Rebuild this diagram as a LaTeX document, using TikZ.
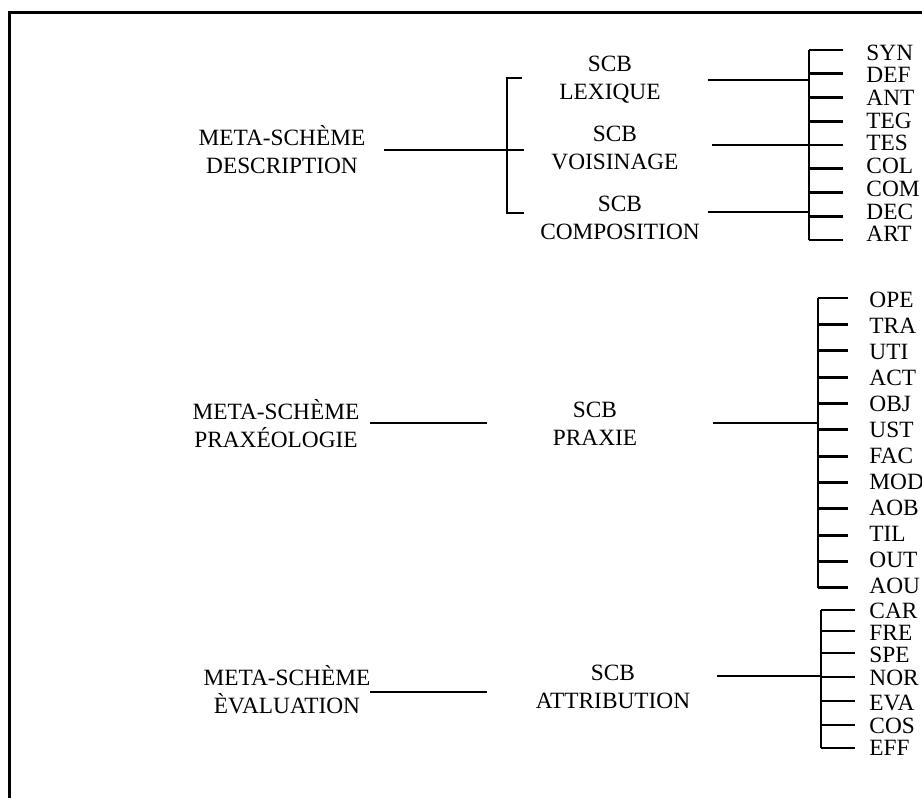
\documentclass[tikz,border=0pt]{standalone}
\usepackage{fontspec}
\setmainfont{Liberation Serif}

\begin{document}
\begin{tikzpicture}[x=0.75pt, y=-0.75pt, line width=2.2pt,
    every node/.style={align=center, font=\fontsize{17.5}{21}\selectfont},
    leaf/.style={anchor=west, inner sep=0pt, text height=11.5pt, text depth=0pt}]
  \useasboundingbox (0,0) rectangle (922,798);
  % Frame
  \draw[line width=2.4pt] (922,12.5) -- (9.5,12.5) -- (9.5,798);

  % Nodes
  \node (MD) at (282,150) {META-SCHÈME\\DESCRIPTION};
  \node (SL) at (610,80) {SCB\\LEXIQUE};
  \node (SV) at (615,148) {SCB\\VOISINAGE};
  \node (SC) at (620,218) {SCB\\COMPOSITION};
  \node (MP) at (276,424) {META-SCHÈME\\PRAXÉOLOGIE};
  \node (SP) at (595,424) {SCB\\PRAXIE};
  \node (ME) at (287,690) {META-SCHÈME\\ÈVALUATION};
  \node (SA) at (613,687) {SCB\\ATTRIBUTION};

  % Coordinates
  \coordinate (d0) at (384,150);
  \coordinate (d1) at (507,150);
  \coordinate (l0) at (708,80);
  \coordinate (l1) at (809,80);
  \coordinate (v0) at (712,145);
  \coordinate (v1) at (843,145);
  \coordinate (c0) at (708,212);
  \coordinate (c1) at (809,212);
  \coordinate (p0) at (370,423);
  \coordinate (p1) at (487,423);
  \coordinate (p2) at (713,423);
  \coordinate (p3) at (818,423);
  \coordinate (e0) at (370,692);
  \coordinate (e1) at (487,692);
  \coordinate (e2) at (717,676);
  \coordinate (e3) at (821,676);

  % Edges
  \draw (d0) -- (d1);
  \draw (522,78) -- (507,78) -- (507,213) -- (524,213);
  \draw (d1) -- (524,150);
  \draw (l0) -- (l1);
  \draw (v0) -- (v1);
  \draw (c0) -- (c1);
  \draw (809,50) -- (809,240);
  \draw (p0) -- (p1);
  \draw (p2) -- (p3);
  \draw (818,298) -- (818,588);
  \draw (e0) -- (e1);
  \draw (e2) -- (e3);
  \draw (821,610) -- (821,748);

  % Leaves
  \foreach \lab [count=\i from 0] in {SYN,DEF,ANT,TEG,TES,COL,COM,DEC,ART} {
    \draw (809,{50+23.75*\i}) -- (843,{50+23.75*\i});
    \node[leaf] (\lab) at (865,{52.5+22.7*\i}) {\lab};
  }
  \foreach \lab [count=\i from 0] in {OPE,TRA,UTI,ACT,OBJ,UST,FAC,MOD,AOB,TIL,OUT,AOU} {
    \draw (818,{298+26.36*\i}) -- (848,{298+26.36*\i});
    \node[leaf] (\lab) at (868,{299.5+26*\i}) {\lab};
  }
  \foreach \lab/\y/\ly in {CAR/610/610.5,FRE/631/632.5,SPE/653/654.5,NOR/677/677.5,EVA/701/702.5,COS/725/725.5,EFF/748/747.5} {
    \draw (821,\y) -- (855,\y);
    \node[leaf] (\lab) at (868,\ly) {\lab};
  }
\end{tikzpicture}
\end{document}
